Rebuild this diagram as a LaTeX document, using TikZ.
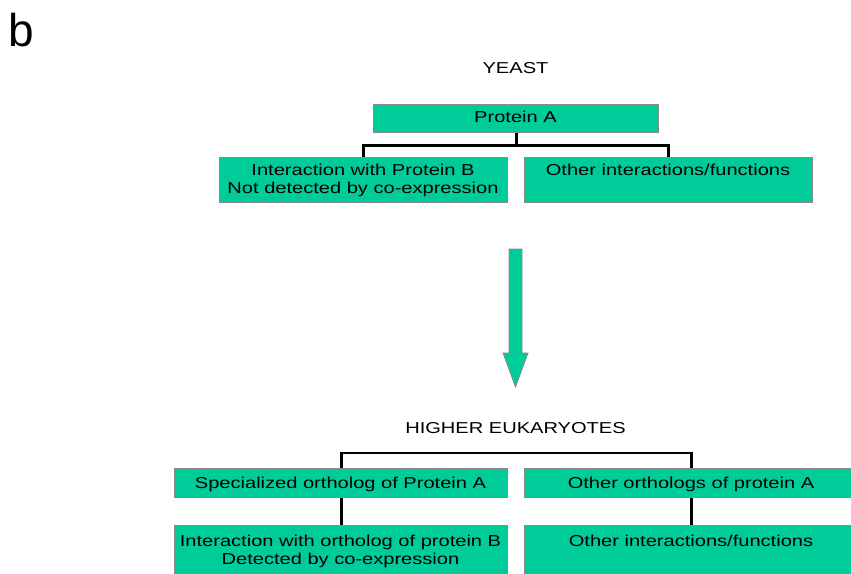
\documentclass[tikz,border=0pt]{standalone}
\usepackage{graphicx}
\usepackage{fontspec}
\setmainfont{Liberation Sans}
\definecolor{boxgreen}{HTML}{00CC99}
\definecolor{boxedge}{HTML}{8A8A8A}
\newcommand\stt[1]{\scalebox{1.27}[1]{#1}}
\tikzset{
  gbox/.style={draw=boxedge, line width=1.4pt, fill=boxgreen, rectangle, anchor=north west, inner sep=0pt},
  lbl/.style={font=\fontsize{15.8}{18}\selectfont, inner sep=0pt, anchor=base},
  conn/.style={draw=black, line width=2.6pt}
}
\begin{document}
\begin{tikzpicture}[x=1pt,y=-1pt]
\useasboundingbox (0,0) rectangle (851,573);
\fill[white] (0,0) rectangle (851,573);
\clip (0,0) rectangle (851,573);

\node[font=\fontsize{46}{46}\selectfont, inner sep=0pt, anchor=base west] (b) at (8,46) {b};

\node[lbl] (yeast) at (515.5,73) {\stt{YEAST}};
\node[lbl] (higher) at (515.5,433) {\stt{HIGHER EUKARYOTES}};

% top boxes
\node[gbox, minimum width=285pt, minimum height=28pt] (pa) at (373,104) {};
\node[gbox, minimum width=288pt, minimum height=45pt] (ib) at (219,157) {};
\node[gbox, minimum width=288pt, minimum height=45pt] (oi) at (524,157) {};

\node[lbl] (tpa) at (515.5,122) {\stt{Protein A}};
\node[lbl] (tib1) at (363,175) {\stt{Interaction with Protein B}};
\node[lbl] (tib2) at (363,193) {\stt{Not detected by co-expression}};
\node[lbl] (toi) at (668,175) {\stt{Other interactions/functions}};

\draw[conn] (pa.south) -- ++(0,12) coordinate (hj) -| (ib.north);
\draw[conn] (hj) -| (oi.north);

% arrow
\filldraw[draw=boxedge, line width=0.8pt, fill=boxgreen]
  (509,249) -- (522,249) -- (522,353) -- (528,353) -- (515.5,387) -- (503,353) -- (509,353) -- cycle;

% bottom boxes
\node[gbox, minimum width=333pt, minimum height=29pt] (so) at (174,468) {};
\node[gbox, minimum width=334pt, minimum height=29pt] (oo) at (524,468) {};
\node[gbox, minimum width=333pt, minimum height=70pt] (io) at (174,525) {};
\node[gbox, minimum width=334pt, minimum height=70pt] (oi2) at (524,525) {};

\node[lbl] (tso) at (340.5,488) {\stt{Specialized ortholog of Protein A}};
\node[lbl] (too) at (691,488) {\stt{Other orthologs of protein A}};
\node[lbl] (tio1) at (340.5,546) {\stt{Interaction with ortholog of protein B}};
\node[lbl] (tio2) at (340.5,564) {\stt{Detected by co-expression}};
\node[lbl] (toi2) at (691,546) {\stt{Other interactions/functions}};

\draw[conn] (so.north) -- ++(0,-15) coordinate (lj) -| (oo.north);
\draw[conn] (so.south) -- (io.north);
\draw[conn] (oo.south) -- (oi2.north);
\end{tikzpicture}
\end{document}
